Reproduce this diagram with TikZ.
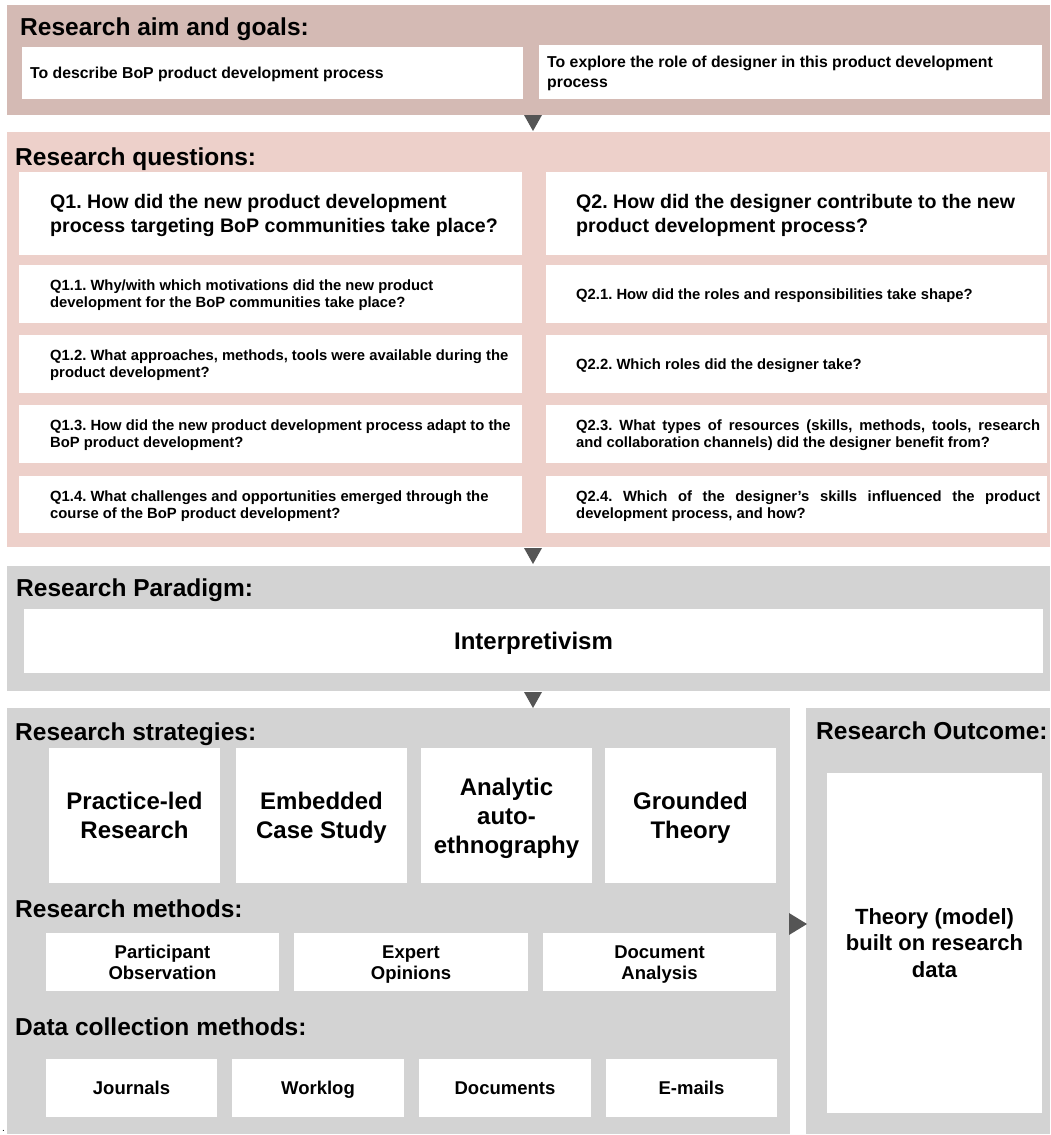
\documentclass[tikz,border=0pt]{standalone}
\usepackage{fontspec}
\setmainfont{Liberation Sans}
\frenchspacing
\definecolor{aimfill}{RGB}{212,186,180}
\definecolor{qfill}{RGB}{237,208,202}
\definecolor{greyfill}{RGB}{211,211,211}
\definecolor{tipfill}{RGB}{85,85,85}
\newcommand\txtsize[2]{\fontsize{#1}{#2}\selectfont\bfseries}
% invisible rules: a fixed top on the first line and a fixed bottom on the
% last one, so every text block centres on its capitals
\newcommand\topstrut{\vrule width0pt height0.97em depth0pt\relax}
\newcommand\botstrut{\vrule width0pt height0pt depth0.25em\relax}
\newcommand\ct[1]{\topstrut#1\botstrut}
% rectangle node given by its top-left and bottom-right corners
\newcommand\mkbox[7]{\node[#2, anchor=north west, minimum width={#5-#3}, minimum height={#6-#4}] (#1) at (#3,#4) {\ct{#7}};}
\begin{document}
\begin{tikzpicture}[x=1pt,y=-1pt,
  panel/.style={fill=#1, draw=none, inner sep=0pt, outer sep=0pt},
  wbox/.style={fill=white, draw=none, inner sep=0pt, outer sep=0pt, align=center},
  heading/.style={anchor=base west, inner sep=0pt, font=\txtsize{24.5}{28}},
  aimtxt/.style={anchor=west, inner sep=0pt, align=left, font=\txtsize{15.8}{20.5}},
  bigq/.style={anchor=west, inner sep=0pt, align=left, font=\txtsize{19.6}{24}},
  subq/.style={anchor=west, inner sep=0pt, align=left, font=\txtsize{14.8}{17}},
  strat/.style={wbox, font=\txtsize{24}{29}},
  meth/.style={wbox, font=\txtsize{18.5}{21}},
  tip/.style={fill=tipfill, draw=none}
]
\useasboundingbox (0,0) rectangle (1051,1135);
\fill[white] (0,0) rectangle (1051,1135);

% ---- bands ----
\mkbox{aimband}{panel=aimfill}{7}{5}{1050}{115}{}
\mkbox{qband}{panel=qfill}{7}{132}{1050}{547}{}
\mkbox{parband}{panel=greyfill}{7}{566}{1050}{691}{}
\mkbox{stratband}{panel=greyfill}{7}{708}{790}{1134}{}
\mkbox{outband}{panel=greyfill}{806}{708}{1050}{1134}{}

% ---- research aim and goals ----
\node[heading] (hAim) at (20,35) {Research aim and goals:};
\mkbox{aim1}{wbox}{22}{47}{523}{99}{}
\mkbox{aim2}{wbox}{539}{45}{1042}{99}{}
\node[aimtxt] (aim1t) at ([xshift=8]aim1.west) {\ct{To describe BoP product development process}};
\node[aimtxt] (aim2t) at ([xshift=8]aim2.west) {\ct{To explore the role of designer in this product development\\process}};

% ---- research questions ----
\node[heading] (hQ) at (15,165) {Research questions:};
\mkbox{q1}{wbox}{19}{172}{522}{255}{}
\mkbox{q2}{wbox}{546}{172}{1047}{255}{}
\node[bigq] (q1t) at ([xshift=31]q1.west) {\ct{Q1. How did the new product development\\process targeting BoP communities take place?}};
\node[bigq] (q2t) at ([xshift=30]q2.west) {\ct{Q2. How did the designer contribute to the new\\product development process?}};

\mkbox{q11}{wbox}{19}{265}{522}{323}{}
\mkbox{q12}{wbox}{19}{335}{522}{393}{}
\mkbox{q13}{wbox}{19}{405}{522}{463}{}
\mkbox{q14}{wbox}{19}{476}{522}{533}{}
\mkbox{q21}{wbox}{546}{265}{1047}{323}{}
\mkbox{q22}{wbox}{546}{335}{1047}{393}{}
\mkbox{q23}{wbox}{546}{405}{1047}{463}{}
\mkbox{q24}{wbox}{546}{476}{1047}{533}{}

\node[subq] (q11t) at ([xshift=31]q11.west) {\ct{Q1.1. Why/with which motivations did the new product\\development for the BoP communities take place?}};
\node[subq] (q12t) at ([xshift=31]q12.west) {\ct{Q1.2. What approaches, methods, tools were available during the\\product development?}};
\node[subq] (q13t) at ([xshift=31]q13.west) {\ct{Q1.3. How did the new product development process adapt to the\\BoP product development?}};
\node[subq] (q14t) at ([xshift=31]q14.west) {\ct{Q1.4. What challenges and opportunities emerged through the\\course of the BoP product development?}};
\node[subq] (q21t) at ([xshift=30]q21.west) {\ct{Q2.1. How did the roles and responsibilities take shape?}};
\node[subq] (q22t) at ([xshift=30]q22.west) {\ct{Q2.2. Which roles did the designer take?}};
\node[subq] (q23t) at ([xshift=30]q23.west) {\ct{\makebox[464pt][s]{Q2.3. What types of resources (skills, methods, tools, research}\\and collaboration channels) did the designer benefit from?}};
\node[subq] (q24t) at ([xshift=30]q24.west) {\ct{\makebox[464pt][s]{Q2.4. Which of the designer’s skills influenced the product}\\development process, and how?}};

% ---- research paradigm ----
\node[heading] (hPar) at (16,596) {Research Paradigm:};
\mkbox{par}{wbox, font=\txtsize{24}{28}}{24}{609}{1043}{673}{Interpretivism}

% ---- research strategies ----
\node[heading] (hStrat) at (15,740) {Research strategies:};
\mkbox{s1}{strat}{49}{748}{220}{883}{Practice-led\\Research}
\mkbox{s2}{strat}{236}{748}{407}{883}{Embedded\\Case Study}
\mkbox{s3}{strat}{421}{748}{592}{883}{Analytic\\auto-\\ethnography}
\mkbox{s4}{strat}{605}{748}{776}{883}{Grounded\\Theory}

% ---- research methods ----
\node[heading] (hMeth) at (15,917) {Research methods:};
\mkbox{m1}{meth}{46}{933}{279}{991}{Participant\\Observation}
\mkbox{m2}{meth}{294}{933}{528}{991}{Expert\\Opinions}
\mkbox{m3}{meth}{543}{933}{776}{991}{Document\\Analysis}

% ---- data collection methods ----
\node[heading] (hData) at (15,1035) {Data collection methods:};
\mkbox{d1}{meth}{46}{1059}{217}{1117}{Journals}
\mkbox{d2}{meth}{232}{1059}{404}{1117}{Worklog}
\mkbox{d3}{meth}{419}{1059}{591}{1117}{Documents}
\mkbox{d4}{meth}{606}{1059}{777}{1117}{E-mails}

% ---- research outcome ----
\node[heading] (hOut) at (816,739) {Research Outcome:};
\mkbox{outbox}{wbox, font=\txtsize{22}{26.5}}{827}{773}{1042}{1113}{Theory (model)\\built on research\\data}

% ---- arrow heads between the bands ----
\coordinate (tipA) at (533,115);
\coordinate (tipB) at (533,548);
\coordinate (tipC) at (533,692);
\coordinate (tipD) at (789,924);
\fill[tip] (tipA) ++(-9,0) -- ++(18,0) -- ++(-9,16) -- cycle;
\fill[tip] (tipB) ++(-9,0) -- ++(18,0) -- ++(-9,16) -- cycle;
\fill[tip] (tipC) ++(-9,0) -- ++(18,0) -- ++(-9,16) -- cycle;
\fill[tip] (tipD) ++(0,-11) -- ++(0,22) -- ++(18,-11) -- cycle;

\node[anchor=base west, inner sep=0pt, font=\fontsize{10}{12}\selectfont] (dot) at (2,1131) {.};
\end{tikzpicture}
\end{document}
